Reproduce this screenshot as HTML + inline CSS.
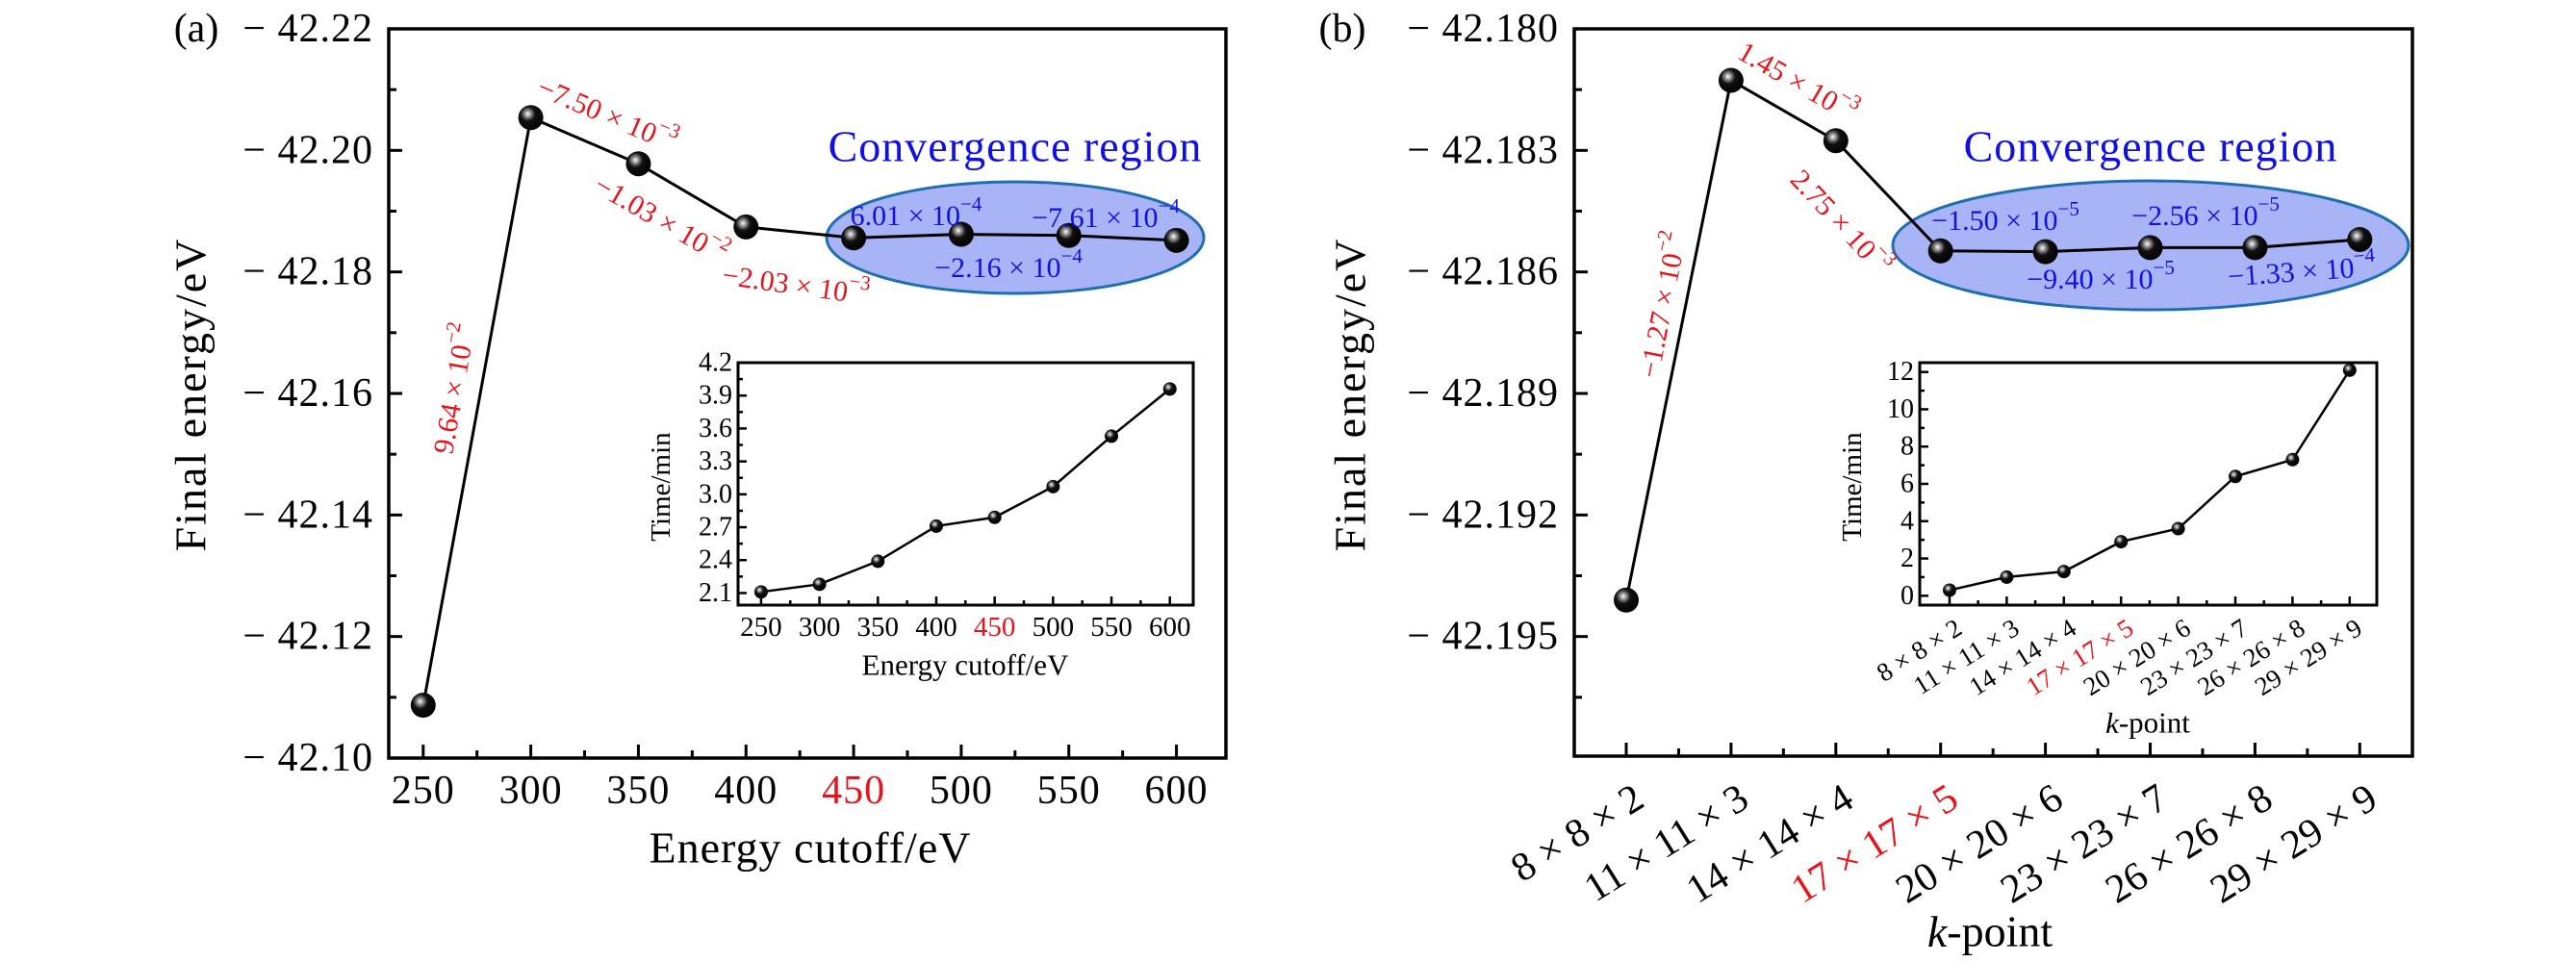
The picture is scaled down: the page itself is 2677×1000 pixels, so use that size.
<!DOCTYPE html>
<html><head><meta charset="utf-8">
<style>
html,body{margin:0;padding:0;background:#fff;}
svg{display:block;font-family:"Liberation Serif","DejaVu Serif",serif;}
</style></head>
<body>
<svg id="fig" width="2677" height="1000" viewBox="0 0 2677 1000" xmlns="http://www.w3.org/2000/svg">
<defs>
<radialGradient id="ball" cx="0.38" cy="0.35" r="0.65">
<stop offset="0" stop-color="#ffffff"/><stop offset="0.18" stop-color="#9a9a9a"/><stop offset="0.45" stop-color="#111"/><stop offset="1" stop-color="#000"/>
</radialGradient>
</defs>
</svg>
<script>
// ---- Panel (a) data ----
const cutoffs = [250,300,350,400,450,500,550,600];
const energyA = [-42.1087,-42.2054,-42.1978,-42.1874,-42.1856,-42.1862,-42.1860,-42.1852];
const timeA = [2.11,2.18,2.39,2.71,2.79,3.07,3.53,3.96];
const yTicksA = [-42.22,-42.20,-42.18,-42.16,-42.14,-42.12,-42.10];
const yTickLabelsA = ["− 42.22","− 42.20","− 42.18","− 42.16","− 42.14","− 42.12","− 42.10"];
const insetYTicksA = [2.1,2.4,2.7,3.0,3.3,3.6,3.9,4.2];
// ---- Panel (b) data ----
const kpoints = ["8 × 8 × 2","11 × 11 × 3","14 × 14 × 4","17 × 17 × 5","20 × 20 × 6","23 × 23 × 7","26 × 26 × 8","29 × 29 × 9"];
const energyB = [-42.1941,-42.18127,-42.18276,-42.18548,-42.1855,-42.1854,-42.1854,-42.1852];
const timeB = [0.3,1.0,1.3,2.9,3.6,6.4,7.3,12.1];
const yTicksB = [-42.180,-42.183,-42.186,-42.189,-42.192,-42.195];
const yTickLabelsB = ["− 42.180","− 42.183","− 42.186","− 42.189","− 42.192","− 42.195"];
const insetYTicksB = [0,2,4,6,8,10,12];

const svg = document.getElementById('fig');
const NS = 'http://www.w3.org/2000/svg';
function mk(tag, attrs, parent){
  const e = document.createElementNS(NS, tag);
  for (const k in attrs) e.setAttribute(k, attrs[k]);
  (parent||svg).appendChild(e);
  return e;
}
function lin(d0,d1,r0,r1){ return v => r0 + (v-d0)/(d1-d0)*(r1-r0); }
function txt(s, x, y, size, opts, parent){
  opts = opts||{};
  const t = mk('text', {x:x, y:y, 'font-size':size, fill:opts.fill||'#000',
    'text-anchor':opts.anchor||'middle', 'dominant-baseline':opts.base||'central'}, parent);
  if (opts.rot!==undefined) t.setAttribute('transform', `rotate(${opts.rot} ${x} ${y})`);
  if (opts.ls) t.setAttribute('letter-spacing', opts.ls);
  t.textContent = s;
  return t;
}
function sci(m, e, x, y, size, color, rot, parent){
  const g = mk('g', {transform:`translate(${x} ${y}) rotate(${rot||0})`}, parent);
  const t = mk('text', {x:0, y:0, 'font-size':size, fill:color, 'text-anchor':'middle', 'dominant-baseline':'central'}, g);
  const a = document.createElementNS(NS,'tspan'); a.textContent = m+' × 10'; t.appendChild(a);
  const b = document.createElementNS(NS,'tspan'); b.setAttribute('dy', -size*0.4); b.setAttribute('font-size', size*0.7); b.textContent = e; t.appendChild(b);
  return g;
}
function frame(x0,y0,x1,y1,w,parent){
  return mk('rect',{x:x0,y:y0,width:x1-x0,height:y1-y0,fill:'none',stroke:'#000','stroke-width':w}, parent);
}

// ================= Panel (a) =================
const A = {l:404, r:1274, t:30, b:788};
const axA = lin(234, 623, A.l, A.r);
const ayA = lin(-42.22, -42.10, A.t, A.b);
const gA = mk('g', {});


txt('(a)', 204, 30, 42, {}, gA);
const elA = mk('ellipse', {cx:1055, cy:247, rx:196, ry:58, fill:'#a9b4f6', stroke:'#1f6fb0','stroke-width':3}, gA);


frame(A.l,A.t,A.r,A.b,3.5,gA);
yTicksA.forEach((v,i)=>{
  const y = ayA(v);
  mk('line',{x1:A.l,y1:y,x2:A.l+14,y2:y,stroke:'#000','stroke-width':3},gA);
  const t = txt(yTickLabelsA[i], A.l-16, y, 42, {anchor:'end', ls:1}, gA);
  
  
  if (i<yTicksA.length-1){ const ym = ayA(v+0.01); mk('line',{x1:A.l,y1:ym,x2:A.l+8,y2:ym,stroke:'#000','stroke-width':3},gA); }
});
cutoffs.forEach((v,i)=>{
  const x = axA(v);
  mk('line',{x1:x,y1:A.b,x2:x,y2:A.b-14,stroke:'#000','stroke-width':3},gA);
  if (i<cutoffs.length-1){ const xm = axA(v+25); mk('line',{x1:xm,y1:A.b,x2:xm,y2:A.b-8,stroke:'#000','stroke-width':3},gA); }
  const t = txt(String(v), x, 822, 42, {fill: v===450?'#e8141b':'#000', ls:1}, gA);
  
  
});
txt('Final energy/eV', 198, 410, 46, {rot:-90, ls:2}, gA);
txt('Energy cutoff/eV', 842, 881, 46, {ls:1}, gA);
const ptsA = cutoffs.map((v,i)=>`${axA(v)},${ayA(energyA[i])}`).join(' ');
const lnA = mk('polyline',{points:ptsA,fill:'none',stroke:'#000','stroke-width':3},gA);


cutoffs.forEach((v,i)=>{
  const c = mk('circle',{cx:axA(v),cy:ayA(energyA[i]),r:13,fill:'url(#ball)'},gA);
  
  
});
txt('Convergence region', 1055, 152, 46, {fill:'#1010e0', ls:1}, gA);
sci('9.64','−2', 472, 404, 30, '#e8141b', -80, gA);
sci('−7.50','−3', 631, 119, 30, '#e8141b', 23, gA);
sci('−1.03','−2', 687, 228, 30, '#e8141b', 30, gA);
sci('−2.03','−3', 827, 296, 30, '#e8141b', 8, gA);
sci('6.01','−4', 952, 224, 30, '#1010e0', 0, gA);
sci('−7.61','−4', 1149, 226, 30, '#1010e0', 0, gA);
sci('−2.16','−4', 1048, 278, 30, '#1010e0', 0, gA);

// inset (a)
const IA = {l:767, r:1240, t:377, b:629};
const ixA = lin(230.3, 620, IA.l, IA.r);
const iyA = lin(1.99, 4.2, IA.b, IA.t);
const giA = mk('g',{},gA);


mk('rect',{x:IA.l,y:IA.t,width:IA.r-IA.l,height:IA.b-IA.t,fill:'#fff'},giA);
frame(IA.l,IA.t,IA.r,IA.b,3,giA);
insetYTicksA.forEach((v,i)=>{
  const y = iyA(v);
  mk('line',{x1:IA.l,y1:y,x2:IA.l+9,y2:y,stroke:'#000','stroke-width':2.5},giA);
  if (i<insetYTicksA.length-1){ const ym=iyA(v+0.15); mk('line',{x1:IA.l,y1:ym,x2:IA.l+5,y2:ym,stroke:'#000','stroke-width':2.5},giA); }
  txt(v.toFixed(1), IA.l-6, y, 28, {anchor:'end'}, giA);
});
cutoffs.forEach((v,i)=>{
  const x = ixA(v);
  mk('line',{x1:x,y1:IA.b,x2:x,y2:IA.b-9,stroke:'#000','stroke-width':2.5},giA);
  if (i<cutoffs.length-1){ const xm=ixA(v+25); mk('line',{x1:xm,y1:IA.b,x2:xm,y2:IA.b-5,stroke:'#000','stroke-width':2.5},giA); }
  txt(String(v), x, 652, 29, {fill: v===450?'#e8141b':'#000'}, giA);
});
txt('Time/min', 687, 506, 29, {rot:-90}, giA);
txt('Energy cutoff/eV', 1003, 691, 31, {}, giA);
mk('polyline',{points:cutoffs.map((v,i)=>`${ixA(v)},${iyA(timeA[i])}`).join(' '),fill:'none',stroke:'#000','stroke-width':2.5},giA);
cutoffs.forEach((v,i)=>{
  const c = mk('circle',{cx:ixA(v),cy:iyA(timeA[i]),r:7,fill:'url(#ball)'},giA);
  
  
});

// ================= Panel (b) =================
const B = {l:1636, r:2507, t:30, b:786};
const axB = i => 1690 + i*108.9;
const ayB = lin(-42.180, -42.198, B.t, 788);
const gB = mk('g',{});


txt('(b)', 1395, 30, 42, {}, gB);
const elB = mk('ellipse',{cx:2235, cy:255, rx:268, ry:67, fill:'#a9b4f6', stroke:'#1f6fb0','stroke-width':3},gB);


frame(B.l,B.t,B.r,B.b,3.5,gB);
yTicksB.forEach((v,i)=>{
  const y = ayB(v);
  mk('line',{x1:B.l,y1:y,x2:B.l+14,y2:y,stroke:'#000','stroke-width':3},gB);
  const ym = ayB(v-0.0015); mk('line',{x1:B.l,y1:ym,x2:B.l+8,y2:ym,stroke:'#000','stroke-width':3},gB);
  const t = txt(yTickLabelsB[i], B.l-16, y, 42, {anchor:'end', ls:1}, gB);
  
  
});
kpoints.forEach((k,i)=>{
  const x = axB(i);
  mk('line',{x1:x,y1:B.b,x2:x,y2:B.b-14,stroke:'#000','stroke-width':3},gB);
  if (i<kpoints.length-1){ const xm=axB(i+0.5); mk('line',{x1:xm,y1:B.b,x2:xm,y2:B.b-8,stroke:'#000','stroke-width':3},gB); }
  const t = txt(k, x+14, 826, 42, {anchor:'end', rot:-32, fill: i===3?'#e8141b':'#000'}, gB);
  
  
});
txt('Final energy/eV', 1403, 410, 46, {rot:-90, ls:2}, gB);
const kt = mk('text',{x:2068,y:968,'font-size':46,'text-anchor':'middle','dominant-baseline':'central'},gB);

kt.innerHTML = '<tspan font-style="italic">k</tspan>-point';
mk('polyline',{points:kpoints.map((k,i)=>`${axB(i)},${ayB(energyB[i])}`).join(' '),fill:'none',stroke:'#000','stroke-width':3},gB);
kpoints.forEach((k,i)=>{
  const c = mk('circle',{cx:axB(i),cy:ayB(energyB[i]),r:13,fill:'url(#ball)'},gB);
  
  
});
txt('Convergence region', 2235, 152, 46, {fill:'#1010e0', ls:1}, gB);
sci('1.45','−3', 1868, 85, 30, '#e8141b', 30, gB);
sci('−1.27','−2', 1728, 317, 30, '#e8141b', -79, gB);
sci('2.75','−3', 1913, 231, 30, '#e8141b', 47, gB);
sci('−1.50','−5', 2084, 229, 30, '#1010e0', 0, gB);
sci('−2.56','−5', 2292, 224, 30, '#1010e0', 0, gB);
sci('−9.40','−5', 2183, 290, 30, '#1010e0', 0, gB);
sci('−1.33','−4', 2392, 282, 30, '#1010e0', -4, gB);

// inset (b)
const IB = {l:1995, r:2470, t:377, b:629};
const ixB = i => 2026 + i*59.4;
const iyB = lin(-0.5, 12.5, IB.b, IB.t);
const giB = mk('g',{},gB);


mk('rect',{x:IB.l,y:IB.t,width:IB.r-IB.l,height:IB.b-IB.t,fill:'#fff'},giB);
frame(IB.l,IB.t,IB.r,IB.b,3,giB);
insetYTicksB.forEach((v,i)=>{
  const y = iyB(v);
  mk('line',{x1:IB.l,y1:y,x2:IB.l+9,y2:y,stroke:'#000','stroke-width':2.5},giB);
  if (i<insetYTicksB.length-1){ const ym=iyB(v+1); mk('line',{x1:IB.l,y1:ym,x2:IB.l+5,y2:ym,stroke:'#000','stroke-width':2.5},giB); }
  txt(String(v), IB.l-6, y, 28, {anchor:'end'}, giB);
});
kpoints.forEach((k,i)=>{
  const x = ixB(i);
  mk('line',{x1:x,y1:IB.b,x2:x,y2:IB.b-9,stroke:'#000','stroke-width':2.5},giB);
  if (i<kpoints.length-1){ const xm=ixB(i+0.5); mk('line',{x1:xm,y1:IB.b,x2:xm,y2:IB.b-5,stroke:'#000','stroke-width':2.5},giB); }
  txt(k, x+10, 650, 27, {anchor:'end', rot:-32, fill: i===3?'#e8141b':'#000'}, giB);
});
txt('Time/min', 1925, 506, 29, {rot:-90}, giB);
const ikt = mk('text',{x:2232,y:751,'font-size':31,'text-anchor':'middle','dominant-baseline':'central'},giB);

ikt.innerHTML = '<tspan font-style="italic">k</tspan>-point';
mk('polyline',{points:kpoints.map((k,i)=>`${ixB(i)},${iyB(timeB[i])}`).join(' '),fill:'none',stroke:'#000','stroke-width':2.5},giB);
kpoints.forEach((k,i)=>{
  const c = mk('circle',{cx:ixB(i),cy:iyB(timeB[i]),r:7,fill:'url(#ball)'},giB);
  
  
});
</script>
</body></html>
